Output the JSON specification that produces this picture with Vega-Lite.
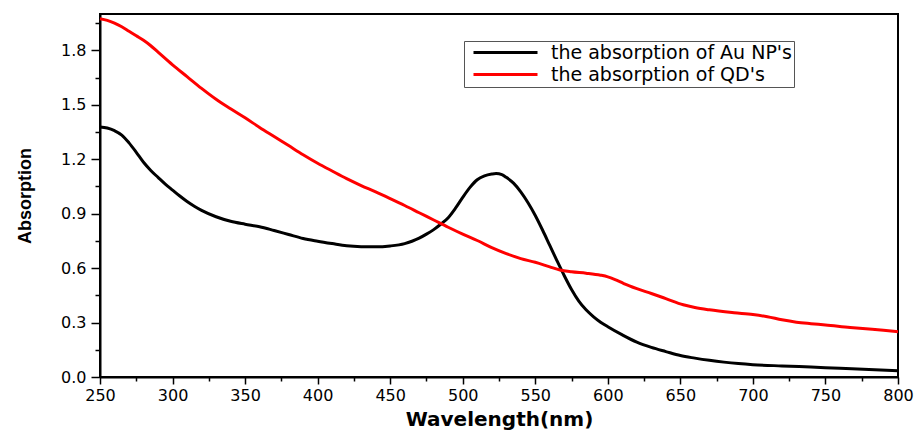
{
  "$schema": "https://vega.github.io/schema/vega-lite/v6.json",
  "width": 798,
  "height": 363,
  "autosize": "none",
  "padding": {"left": 100, "top": 14, "right": 19, "bottom": 53},
  "background": "white",
  "config": {
    "view": {"stroke": "black", "strokeWidth": 2},
    "axis": {
      "grid": false,
      "domainColor": "black",
      "domainWidth": 2,
      "tickColor": "black",
      "tickWidth": 1.5,
      "labelColor": "black",
      "titleColor": "black",
      "labelFont": "DejaVu Sans",
      "labelFontSize": 16,
      "labelFlush": false
    }
  },
  "datasets": {
    "spectra": [
      {"wavelength": 250, "absorption": 1.378, "series": "the absorption of Au NP's"},
      {"wavelength": 255, "absorption": 1.372, "series": "the absorption of Au NP's"},
      {"wavelength": 260, "absorption": 1.357, "series": "the absorption of Au NP's"},
      {"wavelength": 265, "absorption": 1.333, "series": "the absorption of Au NP's"},
      {"wavelength": 270, "absorption": 1.29, "series": "the absorption of Au NP's"},
      {"wavelength": 275, "absorption": 1.238, "series": "the absorption of Au NP's"},
      {"wavelength": 280, "absorption": 1.183, "series": "the absorption of Au NP's"},
      {"wavelength": 285, "absorption": 1.138, "series": "the absorption of Au NP's"},
      {"wavelength": 290, "absorption": 1.1, "series": "the absorption of Au NP's"},
      {"wavelength": 295, "absorption": 1.063, "series": "the absorption of Au NP's"},
      {"wavelength": 300, "absorption": 1.03, "series": "the absorption of Au NP's"},
      {"wavelength": 305, "absorption": 0.997, "series": "the absorption of Au NP's"},
      {"wavelength": 310, "absorption": 0.967, "series": "the absorption of Au NP's"},
      {"wavelength": 315, "absorption": 0.941, "series": "the absorption of Au NP's"},
      {"wavelength": 320, "absorption": 0.918, "series": "the absorption of Au NP's"},
      {"wavelength": 330, "absorption": 0.883, "series": "the absorption of Au NP's"},
      {"wavelength": 340, "absorption": 0.858, "series": "the absorption of Au NP's"},
      {"wavelength": 350, "absorption": 0.842, "series": "the absorption of Au NP's"},
      {"wavelength": 360, "absorption": 0.828, "series": "the absorption of Au NP's"},
      {"wavelength": 370, "absorption": 0.807, "series": "the absorption of Au NP's"},
      {"wavelength": 380, "absorption": 0.785, "series": "the absorption of Au NP's"},
      {"wavelength": 390, "absorption": 0.763, "series": "the absorption of Au NP's"},
      {"wavelength": 400, "absorption": 0.748, "series": "the absorption of Au NP's"},
      {"wavelength": 410, "absorption": 0.735, "series": "the absorption of Au NP's"},
      {"wavelength": 420, "absorption": 0.723, "series": "the absorption of Au NP's"},
      {"wavelength": 430, "absorption": 0.718, "series": "the absorption of Au NP's"},
      {"wavelength": 440, "absorption": 0.717, "series": "the absorption of Au NP's"},
      {"wavelength": 450, "absorption": 0.722, "series": "the absorption of Au NP's"},
      {"wavelength": 460, "absorption": 0.735, "series": "the absorption of Au NP's"},
      {"wavelength": 465, "absorption": 0.748, "series": "the absorption of Au NP's"},
      {"wavelength": 470, "absorption": 0.765, "series": "the absorption of Au NP's"},
      {"wavelength": 475, "absorption": 0.787, "series": "the absorption of Au NP's"},
      {"wavelength": 480, "absorption": 0.812, "series": "the absorption of Au NP's"},
      {"wavelength": 485, "absorption": 0.843, "series": "the absorption of Au NP's"},
      {"wavelength": 490, "absorption": 0.878, "series": "the absorption of Au NP's"},
      {"wavelength": 495, "absorption": 0.93, "series": "the absorption of Au NP's"},
      {"wavelength": 500, "absorption": 0.99, "series": "the absorption of Au NP's"},
      {"wavelength": 505, "absorption": 1.045, "series": "the absorption of Au NP's"},
      {"wavelength": 510, "absorption": 1.087, "series": "the absorption of Au NP's"},
      {"wavelength": 515, "absorption": 1.108, "series": "the absorption of Au NP's"},
      {"wavelength": 520, "absorption": 1.118, "series": "the absorption of Au NP's"},
      {"wavelength": 523, "absorption": 1.121, "series": "the absorption of Au NP's"},
      {"wavelength": 527, "absorption": 1.115, "series": "the absorption of Au NP's"},
      {"wavelength": 530, "absorption": 1.1, "series": "the absorption of Au NP's"},
      {"wavelength": 535, "absorption": 1.068, "series": "the absorption of Au NP's"},
      {"wavelength": 540, "absorption": 1.02, "series": "the absorption of Au NP's"},
      {"wavelength": 545, "absorption": 0.96, "series": "the absorption of Au NP's"},
      {"wavelength": 550, "absorption": 0.89, "series": "the absorption of Au NP's"},
      {"wavelength": 555, "absorption": 0.81, "series": "the absorption of Au NP's"},
      {"wavelength": 560, "absorption": 0.725, "series": "the absorption of Au NP's"},
      {"wavelength": 565, "absorption": 0.64, "series": "the absorption of Au NP's"},
      {"wavelength": 570, "absorption": 0.558, "series": "the absorption of Au NP's"},
      {"wavelength": 575, "absorption": 0.482, "series": "the absorption of Au NP's"},
      {"wavelength": 580, "absorption": 0.418, "series": "the absorption of Au NP's"},
      {"wavelength": 585, "absorption": 0.37, "series": "the absorption of Au NP's"},
      {"wavelength": 590, "absorption": 0.333, "series": "the absorption of Au NP's"},
      {"wavelength": 595, "absorption": 0.302, "series": "the absorption of Au NP's"},
      {"wavelength": 600, "absorption": 0.277, "series": "the absorption of Au NP's"},
      {"wavelength": 610, "absorption": 0.232, "series": "the absorption of Au NP's"},
      {"wavelength": 620, "absorption": 0.192, "series": "the absorption of Au NP's"},
      {"wavelength": 630, "absorption": 0.163, "series": "the absorption of Au NP's"},
      {"wavelength": 640, "absorption": 0.14, "series": "the absorption of Au NP's"},
      {"wavelength": 650, "absorption": 0.118, "series": "the absorption of Au NP's"},
      {"wavelength": 660, "absorption": 0.104, "series": "the absorption of Au NP's"},
      {"wavelength": 670, "absorption": 0.092, "series": "the absorption of Au NP's"},
      {"wavelength": 680, "absorption": 0.082, "series": "the absorption of Au NP's"},
      {"wavelength": 690, "absorption": 0.074, "series": "the absorption of Au NP's"},
      {"wavelength": 700, "absorption": 0.068, "series": "the absorption of Au NP's"},
      {"wavelength": 720, "absorption": 0.061, "series": "the absorption of Au NP's"},
      {"wavelength": 740, "absorption": 0.055, "series": "the absorption of Au NP's"},
      {"wavelength": 760, "absorption": 0.048, "series": "the absorption of Au NP's"},
      {"wavelength": 780, "absorption": 0.042, "series": "the absorption of Au NP's"},
      {"wavelength": 800, "absorption": 0.035, "series": "the absorption of Au NP's"},
      {"wavelength": 250, "absorption": 1.974, "series": "the absorption of  QD's"},
      {"wavelength": 255, "absorption": 1.965, "series": "the absorption of  QD's"},
      {"wavelength": 260, "absorption": 1.95, "series": "the absorption of  QD's"},
      {"wavelength": 265, "absorption": 1.93, "series": "the absorption of  QD's"},
      {"wavelength": 270, "absorption": 1.905, "series": "the absorption of  QD's"},
      {"wavelength": 275, "absorption": 1.88, "series": "the absorption of  QD's"},
      {"wavelength": 280, "absorption": 1.855, "series": "the absorption of  QD's"},
      {"wavelength": 285, "absorption": 1.825, "series": "the absorption of  QD's"},
      {"wavelength": 290, "absorption": 1.79, "series": "the absorption of  QD's"},
      {"wavelength": 300, "absorption": 1.72, "series": "the absorption of  QD's"},
      {"wavelength": 310, "absorption": 1.655, "series": "the absorption of  QD's"},
      {"wavelength": 320, "absorption": 1.59, "series": "the absorption of  QD's"},
      {"wavelength": 330, "absorption": 1.53, "series": "the absorption of  QD's"},
      {"wavelength": 340, "absorption": 1.478, "series": "the absorption of  QD's"},
      {"wavelength": 350, "absorption": 1.428, "series": "the absorption of  QD's"},
      {"wavelength": 360, "absorption": 1.375, "series": "the absorption of  QD's"},
      {"wavelength": 370, "absorption": 1.325, "series": "the absorption of  QD's"},
      {"wavelength": 380, "absorption": 1.275, "series": "the absorption of  QD's"},
      {"wavelength": 390, "absorption": 1.225, "series": "the absorption of  QD's"},
      {"wavelength": 400, "absorption": 1.178, "series": "the absorption of  QD's"},
      {"wavelength": 410, "absorption": 1.135, "series": "the absorption of  QD's"},
      {"wavelength": 420, "absorption": 1.093, "series": "the absorption of  QD's"},
      {"wavelength": 430, "absorption": 1.055, "series": "the absorption of  QD's"},
      {"wavelength": 440, "absorption": 1.02, "series": "the absorption of  QD's"},
      {"wavelength": 450, "absorption": 0.983, "series": "the absorption of  QD's"},
      {"wavelength": 460, "absorption": 0.945, "series": "the absorption of  QD's"},
      {"wavelength": 470, "absorption": 0.905, "series": "the absorption of  QD's"},
      {"wavelength": 480, "absorption": 0.865, "series": "the absorption of  QD's"},
      {"wavelength": 490, "absorption": 0.825, "series": "the absorption of  QD's"},
      {"wavelength": 500, "absorption": 0.787, "series": "the absorption of  QD's"},
      {"wavelength": 510, "absorption": 0.752, "series": "the absorption of  QD's"},
      {"wavelength": 520, "absorption": 0.713, "series": "the absorption of  QD's"},
      {"wavelength": 530, "absorption": 0.68, "series": "the absorption of  QD's"},
      {"wavelength": 540, "absorption": 0.652, "series": "the absorption of  QD's"},
      {"wavelength": 550, "absorption": 0.632, "series": "the absorption of  QD's"},
      {"wavelength": 560, "absorption": 0.607, "series": "the absorption of  QD's"},
      {"wavelength": 567, "absorption": 0.59, "series": "the absorption of  QD's"},
      {"wavelength": 575, "absorption": 0.58, "series": "the absorption of  QD's"},
      {"wavelength": 585, "absorption": 0.572, "series": "the absorption of  QD's"},
      {"wavelength": 595, "absorption": 0.561, "series": "the absorption of  QD's"},
      {"wavelength": 600, "absorption": 0.552, "series": "the absorption of  QD's"},
      {"wavelength": 605, "absorption": 0.537, "series": "the absorption of  QD's"},
      {"wavelength": 611, "absorption": 0.515, "series": "the absorption of  QD's"},
      {"wavelength": 620, "absorption": 0.487, "series": "the absorption of  QD's"},
      {"wavelength": 630, "absorption": 0.46, "series": "the absorption of  QD's"},
      {"wavelength": 640, "absorption": 0.432, "series": "the absorption of  QD's"},
      {"wavelength": 652, "absorption": 0.398, "series": "the absorption of  QD's"},
      {"wavelength": 660, "absorption": 0.383, "series": "the absorption of  QD's"},
      {"wavelength": 670, "absorption": 0.37, "series": "the absorption of  QD's"},
      {"wavelength": 687, "absorption": 0.354, "series": "the absorption of  QD's"},
      {"wavelength": 700, "absorption": 0.344, "series": "the absorption of  QD's"},
      {"wavelength": 710, "absorption": 0.332, "series": "the absorption of  QD's"},
      {"wavelength": 720, "absorption": 0.315, "series": "the absorption of  QD's"},
      {"wavelength": 730, "absorption": 0.302, "series": "the absorption of  QD's"},
      {"wavelength": 740, "absorption": 0.294, "series": "the absorption of  QD's"},
      {"wavelength": 750, "absorption": 0.287, "series": "the absorption of  QD's"},
      {"wavelength": 767, "absorption": 0.273, "series": "the absorption of  QD's"},
      {"wavelength": 780, "absorption": 0.264, "series": "the absorption of  QD's"},
      {"wavelength": 790, "absorption": 0.257, "series": "the absorption of  QD's"},
      {"wavelength": 800, "absorption": 0.249, "series": "the absorption of  QD's"}
    ]
  },
  "data": {"name": "spectra"},
  "layer": [
    {
      "mark": {"type": "line", "opacity": 0},
      "encoding": {
        "x": {
          "field": "wavelength", "type": "quantitative",
          "scale": {"domain": [250, 800], "nice": false, "zero": false},
          "axis": {"orient": "bottom", "values": [275, 325, 375, 425, 475, 525, 575, 625, 675, 725, 775], "labels": false, "domain": false, "tickSize": 4, "title": null}
        },
        "y": {
          "field": "absorption", "type": "quantitative",
          "scale": {"domain": [0, 2.0], "nice": false},
          "axis": {"orient": "left", "values": [0.15, 0.45, 0.75, 1.05, 1.35, 1.65, 1.95], "labels": false, "domain": false, "tickSize": 5, "title": null}
        },
        "detail": {"field": "series"}
      }
    },
    {
      "mark": {"type": "line", "strokeWidth": 3, "interpolate": "monotone"},
      "encoding": {
        "x": {
          "field": "wavelength", "type": "quantitative",
          "scale": {"domain": [250, 800], "nice": false, "zero": false},
          "axis": {
            "orient": "bottom",
            "values": [250, 300, 350, 400, 450, 500, 550, 600, 650, 700, 750, 800],
            "tickSize": 7,
            "labelPadding": 3,
            "title": "Wavelength(nm)",
            "titleFont": "DejaVu Sans",
            "titleFontWeight": "bold",
            "titleFontSize": 20,
            "titlePadding": 6
          }
        },
        "y": {
          "field": "absorption", "type": "quantitative",
          "scale": {"domain": [0, 2.0], "nice": false},
          "axis": {
            "orient": "left",
            "values": [0, 0.3, 0.6, 0.9, 1.2, 1.5, 1.8],
            "format": ".1f",
            "tickSize": 9,
            "labelPadding": 5,
            "title": "Absorption",
            "titleFont": "Liberation Sans",
            "titleFontWeight": "bold",
            "titleFontSize": 18,
            "titlePadding": 26
          }
        },
        "color": {
          "field": "series", "type": "nominal",
          "scale": {"domain": ["the absorption of Au NP's", "the absorption of  QD's"], "range": ["#000000", "#ff0000"]},
          "legend": {
            "title": null,
            "orient": "none",
            "legendX": 364,
            "legendY": 27,
            "symbolType": "M-0.5,0H15.5",
            "symbolSize": 64,
            "symbolStrokeWidth": 3,
            "labelFont": "DejaVu Sans",
            "labelFontSize": 19,
            "labelLimit": 500,
            "labelColor": "black",
            "labelOffset": 66,
            "strokeColor": "#555555",
            "padding": 2,
            "rowPadding": 2,
            "fillColor": "white"
          }
        }
      }
    }
  ],
  "resolve": {"axis": {"x": "independent", "y": "independent"}}
}
